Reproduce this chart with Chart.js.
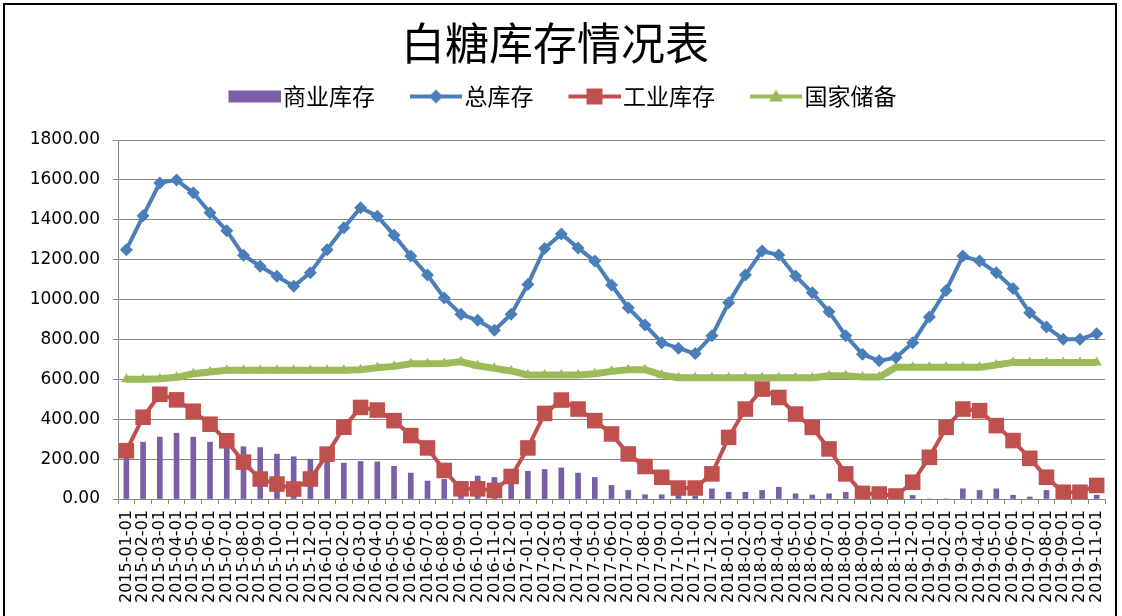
<!DOCTYPE html>
<html>
<head>
<meta charset="utf-8">
<script src="https://cdn.jsdelivr.net/npm/chart.js@4.4.0/dist/chart.umd.min.js"></script>
<style>
body { margin: 0; background: #fff; overflow: hidden; }
#wrap { position: relative; width: 1122px; height: 616px; overflow: hidden; }
#frame { position: absolute; left: 3px; top: 3px; width: 1114px; height: 700px; border: 2px solid #000; box-sizing: border-box; pointer-events: none; }
canvas { position: absolute; left: 0; top: 0; }
</style>
</head>
<body>
<div id="wrap">
  <canvas id="myChart" width="1122" height="616"></canvas>
  <div id="frame"></div>
</div>
<script>
// month labels 2015-01-01 ... 2019-11-01
var months = []
for (var yr = 2015; yr <= 2019; yr++) {
    for (var mo = 1; mo <= 12; mo++) {
        if (yr === 2019 && mo > 11) break
        months.push(yr + '-' + (mo < 10 ? '0' + mo : mo) + '-01')
    }
}

var seriesNames = ['商业库存', '总库存', '工业库存', '国家储备']

var commercial = [205, 285, 310, 330, 310, 285, 268, 262, 258, 225, 212, 200,
    188, 180, 188, 186, 164, 130, 90, 98, 70, 115, 108, 100,
    139, 148, 156, 130, 108, 68, 43, 21, 21, 20, 15, 51,
    34, 34, 43, 59, 26, 20, 26, 34, 10, 5, 5, 18,
    0, 0, 51, 43, 51, 19, 10, 43, 0, 0, 19]

var total = [1250, 1420, 1585, 1600, 1535, 1435, 1345, 1222, 1167, 1117, 1067, 1135,
    1250, 1360, 1460, 1418, 1323, 1218, 1123, 1008, 926, 896, 846, 926,
    1076, 1256, 1329, 1259, 1193, 1073, 959, 873, 784, 756, 729, 818,
    984, 1123, 1243, 1223, 1118, 1034, 939, 818, 726, 693, 709, 784,
    913, 1046, 1218, 1193, 1134, 1056, 934, 863, 801, 801, 829]

var industrial = [242, 410, 525, 497, 440, 375, 292, 185, 100, 75, 50, 100,
    225, 360, 459, 446, 393, 318, 256, 143, 51, 51, 43, 113,
    256, 429, 496, 451, 393, 326, 226, 163, 109, 55, 55, 126,
    309, 451, 551, 509, 426, 359, 251, 126, 28, 25, 15, 84,
    209, 359, 451, 443, 368, 293, 204, 109, 34, 34, 68]

var reserve = [600, 600, 603, 610, 628, 637, 645, 645, 645, 645, 645, 645,
    645, 645, 648, 658, 665, 678, 678, 680, 688, 668, 655, 642,
    622, 622, 622, 622, 628, 640, 648, 648, 622, 608, 608, 608,
    608, 608, 608, 608, 608, 608, 618, 618, 612, 612, 660, 660,
    660, 660, 660, 660, 672, 685, 685, 685, 685, 685, 685]

var colors = ['#7B5FA6', '#4A7EBB', '#C0504D', '#9BBB59']
var shapes = ['bar', 'rectRot', 'rect', 'triangle']

// legend icon: line with marker (or a filled box for the bars)
function legendIcon(kind, color) {
    var c = document.createElement('canvas')
    c.width = 76
    c.height = 20
    var g = c.getContext('2d')
    var x0 = 24, x1 = 76, cy = 10, mx = (x0 + x1) / 2
    g.fillStyle = color
    g.strokeStyle = color
    if (kind === 'bar') {
        g.fillRect(x0, cy - 6, x1 - x0, 12)
        return c
    }
    g.lineWidth = 4
    g.beginPath()
    g.moveTo(x0, cy)
    g.lineTo(x1, cy)
    g.stroke()
    g.beginPath()
    if (kind === 'rectRot') {
        g.moveTo(mx, cy - 7); g.lineTo(mx + 7, cy); g.lineTo(mx, cy + 7); g.lineTo(mx - 7, cy)
    } else if (kind === 'rect') {
        g.rect(mx - 8, cy - 8, 16, 16)
    } else {
        g.moveTo(mx, cy - 7); g.lineTo(mx + 7, cy + 5); g.lineTo(mx - 7, cy + 5)
    }
    g.closePath()
    g.fill()
    return c
}

var icons = shapes.map(function (s, i) { return legendIcon(s, colors[i]) })

var legendGap = {
    id: 'legendGap',
    beforeInit: function (chart) {
        var fit = chart.legend.fit
        chart.legend.fit = function () {
            fit.bind(chart.legend)()
            this.height += 22
        }
    }
}

var myChart

function Graphic() {
    var ctx = document.getElementById('myChart')
    myChart = new Chart(ctx, {
        type: 'bar',
        data: {
            labels: months,
            datasets: [{
                type: 'bar',
                label: seriesNames[0],
                data: commercial,
                backgroundColor: colors[0],
                barThickness: 5,
                order: 1
            },
            {
                type: 'line',
                label: seriesNames[1],
                data: total,
                borderColor: colors[1],
                backgroundColor: colors[1],
                borderWidth: 4,
                pointStyle: 'rectRot',
                pointRadius: 6.5,
                pointBorderWidth: 0,
                order: 0
            },
            {
                type: 'line',
                label: seriesNames[2],
                data: industrial,
                borderColor: colors[2],
                backgroundColor: colors[2],
                borderWidth: 4,
                pointStyle: 'rect',
                pointRadius: 11,
                pointBorderWidth: 0,
                order: 0
            },
            {
                type: 'line',
                label: seriesNames[3],
                data: reserve,
                borderColor: colors[3],
                backgroundColor: colors[3],
                borderWidth: 7,
                pointStyle: 'triangle',
                pointRadius: 6,
                pointBorderWidth: 0,
                order: 0
            }]
        },
        options: {
            responsive: false,
            animation: false,
            events: [],
            layout: { padding: { left: 0, right: 12, top: 0, bottom: 0 } },
            plugins: {
                title: {
                    display: true,
                    text: '白糖库存情况表',
                    color: '#000',
                    font: { family: 'Noto Sans CJK SC', size: 44, weight: 'normal', lineHeight: 1 },
                    padding: { top: 21, bottom: 0 }
                },
                legend: {
                    display: true,
                    position: 'top',
                    labels: {
                        usePointStyle: true,
                        pointStyleWidth: 58,
                        padding: 20,
                        color: '#000',
                        font: { family: 'Noto Sans CJK SC', size: 23 },
                        generateLabels: function (chart) {
                            return chart.data.datasets.map(function (ds, i) {
                                return {
                                    text: ds.label,
                                    fillStyle: colors[i],
                                    strokeStyle: colors[i],
                                    lineWidth: 0,
                                    hidden: false,
                                    datasetIndex: i,
                                    pointStyle: icons[i],
                                    fontColor: '#000'
                                }
                            })
                        }
                    }
                },
                tooltip: { enabled: false }
            },
            scales: {
                x: {
                    offset: true,
                    ticks: {
                        autoSkip: false,
                        maxRotation: 90,
                        minRotation: 90,
                        padding: 6,
                        color: '#000',
                        font: { family: 'DejaVu Sans', size: 16 }
                    },
                    grid: { offset: true, drawOnChartArea: false, tickLength: 5, color: '#868686' },
                    border: { color: '#868686' },
                    afterFit: function (s) { s.height = 117 }
                },
                y: {
                    min: 0,
                    max: 1800,
                    ticks: {
                        stepSize: 200,
                        padding: 13,
                        color: '#000',
                        font: { family: 'DejaVu Sans', size: 17 },
                        callback: function (v) { return v.toFixed(2) }
                    },
                    grid: { color: '#868686', lineWidth: 1, tickLength: 5 },
                    border: { color: '#868686' },
                    afterFit: function (s) { s.width = 118 }
                }
            }
        },
        plugins: [legendGap]
    })
}

window.addEventListener('load', Graphic)
</script>
</body>
</html>
